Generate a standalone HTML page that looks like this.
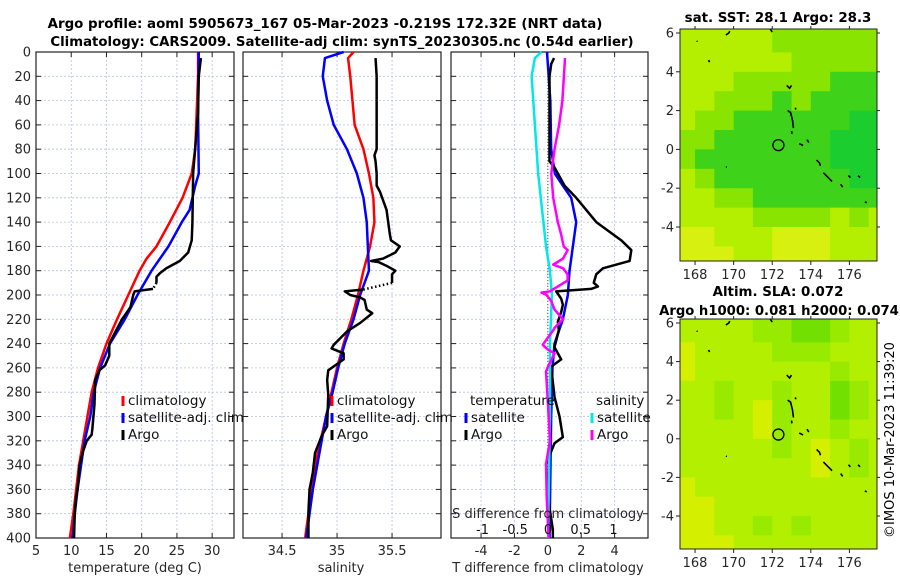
<!DOCTYPE html>
<html><head><meta charset="utf-8">
<style>
html,body{margin:0;padding:0;background:#fff;}
svg{display:block;font-family:"DejaVu Sans","Liberation Sans",sans-serif;}
</style></head>
<body>
<svg id="fig" width="900" height="580" viewBox="0 0 900 580" xmlns="http://www.w3.org/2000/svg">
<rect width="900" height="580" fill="#fff"/>
<text x="325" y="28" text-anchor="middle" font-size="13.4" font-weight="bold">Argo profile: aoml 5905673_167 05-Mar-2023 -0.219S 172.32E (NRT data)</text>
<text x="342" y="46" text-anchor="middle" font-size="13.3" font-weight="bold">Climatology: CARS2009. Satellite-adj clim: synTS_20230305.nc (0.54d earlier)</text>
<g id="plots"></g>
<text transform="translate(894,440) rotate(-90)" text-anchor="middle" font-size="13">©IMOS 10-Mar-2023 11:39:20</text>
</svg>
<script>
// ---------- Profile data ----------
const climDepth = [0,20,50,80,100,120,140,160,170,180,200,220,240,260,280,300,320,340,360,380,400];
const climT = [28.0,28.0,27.8,27.6,27.1,25.8,24.0,22.1,20.7,19.7,18.1,16.5,15.0,13.8,12.9,12.3,11.7,11.1,10.7,10.3,9.8];
const satDepth = [0,50,100,110,120,130,140,160,180,200,220,240,260,280,300,320,340,360,380,400];
const satT = [28.1,28.0,28.1,27.6,27.2,26.8,25.7,23.8,21.4,19.4,17.6,15.5,14.1,13.2,12.7,11.9,11.4,10.9,10.5,10.2];
const argoDepthT = [5,20,50,100,140,155,165,172,178,182,185,190,null,195,197,200,210,220,240,250,258,262,270,290,310,315,320,330,340,360,366,380,400];
const argoT = [28.4,28.1,28.0,27.3,27.2,27.1,26.6,25.4,23.5,22.6,22.1,22.1,null,21.6,19.0,18.8,18.4,17.2,15.4,15.4,14.8,14.0,13.4,13.3,13.0,12.9,12.2,11.6,11.2,10.9,10.7,10.5,10.4];

const climSDepth = [0,5,20,60,80,100,120,140,160,180,200,220,240,260,280,300,320,340,360,380,400];
const climS = [35.15,35.10,35.12,35.16,35.24,35.29,35.33,35.34,35.30,35.24,35.19,35.13,35.06,35.00,34.95,34.90,34.85,34.80,34.77,34.74,34.71];
const satSDepth = [0,5,20,40,60,80,100,120,140,160,180,200,220,240,260,280,300,320,340,360,380,400];
const satS = [35.06,34.89,34.87,34.91,34.97,35.09,35.18,35.24,35.27,35.28,35.29,35.21,35.15,35.07,35.01,34.96,34.90,34.86,34.82,34.78,34.75,34.72];
const argoDepthS = [5,20,40,60,80,85,90,100,110,115,130,150,155,160,165,170,172,173,176,180,183,190,null,195.5,197,200,202,204,212,215,223,230,241,244,248,253,262,270,282,308,316,330,346,360,378,400];
const argoS = [35.35,35.36,35.36,35.36,35.36,35.34,35.35,35.36,35.36,35.39,35.45,35.48,35.49,35.57,35.53,35.42,35.31,35.38,35.45,35.53,35.50,35.50,null,35.24,35.07,35.12,35.21,35.25,35.27,35.32,35.21,35.09,34.97,34.95,35.06,35.06,34.92,34.91,34.92,34.91,34.86,34.80,34.78,34.75,34.74,34.74];

const dSatTDepth = [0,40,80,100,110,120,140,150,160,180,200,220,240,260,300,400];
const dSatT = [-0.05,0.15,0.2,0.42,0.9,1.4,1.7,1.6,1.5,1.3,1.2,0.9,0.4,0.28,0.2,0.1];
const dArgoTDepth = [5,10,20,90,95,110,120,140,155,163,172,178,183,190,193,195,197,203,208,214,222,229,243,253,259,284,300,317,322,339,366,393,400];
const dArgoT = [0.37,0.2,0.1,0.1,0.4,1.0,1.7,2.9,4.4,5.0,4.9,3.3,2.9,2.75,3.0,2.6,0.5,0.8,0.9,0.8,0.6,0.66,0.4,0.8,0.2,0.4,0.7,0.9,0.4,-0.1,0.0,0.3,0.3];
const dSatSDepth = [0,5,20,60,100,140,160,180,200,240,300,400];
const dSatS = [-0.1,-0.2,-0.25,-0.2,-0.15,-0.07,-0.03,0.03,0.06,0.03,0.03,0.0];
const dArgoSDepth = [5,40,60,80,100,120,140,150,160,163,170,175,178,183,188,197,198,200,205,212,220,227,229,241,245,248,259,263,290,320,339,366,400];
const dArgoS = [0.26,0.22,0.17,0.1,0.05,0.08,0.15,0.2,0.24,0.3,0.23,0.08,0.23,0.3,0.3,0.03,-0.1,-0.02,0.05,0.1,0.23,0.1,0.08,-0.08,0.0,0.1,0.0,-0.03,0.0,0.03,-0.03,-0.02,0.01];

const depthTicks = [0,20,40,60,80,100,120,140,160,180,200,220,240,260,280,300,320,340,360,380,400];
const tempTicks = [5,10,15,20,25,30];
const salTicks = [34.5,35,35.5];
const tdiffTicks = [-4,-2,0,2,4];
const sdiffTicks = [-1,-0.5,0,0.5,1];

// ---------- Map data (levels per 1-degree cell, rows lat 6->-6, cols lon 167->178) ----------
const mapLatTop = [7,6,5,4,3,2,1,0,-1,-2,-3,-4,-5];
const mapLonLeft = [167,168,169,170,171,172,173,174,175,176,177];
const sstLevels = [
[1,1,1,1,1,2,2,2,2,2,2],
[1,1,1,1,1,2,2,2,2,2,2],
[1,1,1,1,1,1,2,2,2,2,2],
[1,1,1,2,2,2,2,2,3,3,3],
[1,1,2,2,2,3,2,3,3,3,3],
[1,2,2,3,3,3,3,3,3,4,4],
[2,2,3,3,3,3,3,3,4,4,4],
[2,3,3,3,3,3,3,3,4,4,4],
[1,2,3,3,3,3,3,3,3,4,4],
[1,1,2,2,3,3,3,3,3,3,3],
[1,1,1,1,2,2,2,2,1,2,1],
[0,0,1,1,1,0,0,0,1,1,1],
[0,0,0,1,1,0,0,0,1,1,1]];
const sstColors = ["#d8f010","#b4ee00","#88e400","#3ed21a","#1ccd30"];
const slaLevels = [
[1,1,1,1,2,2,3,3,2,1,1],
[1,1,1,1,2,2,3,3,2,1,1],
[0,1,1,1,1,2,2,2,1,1,1],
[0,1,1,1,1,1,1,1,2,1,1],
[1,1,2,1,1,2,1,1,3,2,1],
[1,1,2,1,0,2,1,1,3,2,1],
[1,1,1,1,0,2,1,1,2,1,1],
[1,1,1,1,1,2,1,0,1,2,1],
[1,1,1,1,1,1,1,0,1,2,1],
[0,1,1,1,1,1,1,1,1,1,1],
[0,0,1,1,1,1,1,1,1,1,1],
[0,0,1,1,2,1,2,1,1,1,1],
[0,0,0,1,1,1,1,1,1,1,1]];
const slaColors = ["#d4f000","#b2ef00","#98ea00","#72e000"];
const islands = [
[[168.1,5.6],[168.12,5.55]],
[[169.6,5.9],[169.75,6.0],[169.8,6.1]],
[[171.9,6.2],[172.0,6.05]],
[[168.7,4.6],[168.75,4.5]],
[[172.75,3.3],[172.9,3.15],[173.0,3.3]],
[[172.8,2.0],[172.95,1.9],[173.05,1.5],[173.1,1.1]],
[[173.2,2.15],[173.22,2.05]],
[[173.0,0.95],[173.02,0.8]],
[[173.4,0.3],[173.6,0.2]],
[[173.8,0.5],[173.9,0.35]],
[[174.3,-0.55],[174.45,-0.7],[174.5,-0.85]],
[[174.65,-1.2],[174.9,-1.45],[175.1,-1.65]],
[[175.55,-1.8],[175.65,-1.95]],
[[175.95,-1.35],[176.05,-1.45]],
[[176.45,-1.35],[176.55,-1.45]],
[[176.8,-2.7],[176.9,-2.75]],
[[169.6,-0.9],[169.65,-0.92]]];
const argoLon = 172.32, argoLat = 0.22;

// ---------- helpers ----------
const NS = "http://www.w3.org/2000/svg";
const root = document.getElementById("plots");
function mk(tag, attrs, parent){ const e=document.createElementNS(NS,tag); for(const k in attrs) e.setAttribute(k,attrs[k]); (parent||root).appendChild(e); return e; }
const Y0=52, Y1=538;
function yD(d){ return Y0 + d/400*(Y1-Y0); }
function lin(d0,d1,r0,r1){ return v=> r0+(v-d0)/(d1-d0)*(r1-r0); }

function panel(name, x0, x1, xs, ticks, labels, showY){
  const g = mk("g",{});
  
  
  depthTicks.forEach(d=>{
    mk("line",{x1:x0,x2:x1,y1:yD(d),y2:yD(d),stroke:"#b8c0e0","stroke-width":0.8,"stroke-dasharray":"2,2"},g);
    mk("line",{x1:x0,x2:x0+5,y1:yD(d),y2:yD(d),stroke:"#222","stroke-width":1},g);
    mk("line",{x1:x1-5,x2:x1,y1:yD(d),y2:yD(d),stroke:"#222","stroke-width":1},g);
    if(showY){
      const t=mk("text",{x:x0-5,y:yD(d)+4.5,"text-anchor":"end","font-size":13,fill:"#262626"},g);
      
      
      t.textContent=d;
    }
  });
  ticks.forEach((v,i)=>{
    const x=xs(v);
    mk("line",{x1:x,x2:x,y1:Y0,y2:Y1,stroke:"#b8c0e0","stroke-width":0.8,"stroke-dasharray":"2,2"},g);
    mk("line",{x1:x,x2:x,y1:Y1,y2:Y1-5,stroke:"#222","stroke-width":1},g);
    mk("line",{x1:x,x2:x,y1:Y0,y2:Y0+5,stroke:"#222","stroke-width":1},g);
    const t=mk("text",{x:x,y:555,"text-anchor":"middle","font-size":13,fill:"#262626"},g);
    
    
    t.textContent=labels[i];
  });
  mk("rect",{x:x0,y:Y0,width:x1-x0,height:Y1-Y0,fill:"none",stroke:"#222","stroke-width":1.2},g);
  return g;
}
function series(name, xs, dep, val, color, w){
  const g=mk("g",{});
  
  
  let seg=[], segs=[];
  for(let i=0;i<dep.length;i++){
    if(dep[i]===null){ segs.push(seg); seg=[]; continue; }
    seg.push([xs(val[i]), yD(dep[i])]);
  }
  segs.push(seg);
  segs.forEach((s,k)=>{
    const p=mk("polyline",{points:s.map(q=>q.join(",")).join(" "),fill:"none",stroke:color,"stroke-width":w,"stroke-linejoin":"round"},g);
    
    
    if(k<segs.length-1){
      const a=s[s.length-1], b=segs[k+1][0];
      mk("line",{x1:a[0],y1:a[1],x2:b[0],y2:b[1],stroke:color,"stroke-width":w,"stroke-dasharray":"1.5,2.5"},g);
    }
  });
}
function legendEntry(x,y,color,label){
  const g=mk("g",{});
  
  
  mk("line",{x1:x,x2:x,y1:y-9,y2:y+1,stroke:color,"stroke-width":3},g);
  const t=mk("text",{x:x+5,y:y,"font-size":13.5,fill:"#111"},g);
  t.textContent=label;
}
function axisTitle(x,y,txt,name){
  const t=mk("text",{x:x,y:y,"text-anchor":"middle","font-size":13,fill:"#262626"});
  
  
  t.textContent=txt;
}

// ---------- Panel 1: temperature ----------
const xT = lin(5,33.1,36,234);
panel("temperature-panel",36,234,xT,tempTicks,tempTicks.map(String),true);
series("temp-climatology",xT,climDepth,climT,"#ff0000",2.5);
series("temp-satellite-adj",xT,satDepth,satT,"#0000ff",2.5);
series("temp-argo",xT,argoDepthT,argoT,"#000000",2.5);
legendEntry(123,405,"#ff0000","climatology");
legendEntry(123,422,"#0000ff","satellite-adj. clim");
legendEntry(123,439,"#000000","Argo");
axisTitle(135,572,"temperature (deg C)","x-axis-title-temperature");

// ---------- Panel 2: salinity ----------
const xS = lin(34.145,35.945,243,441);
panel("salinity-panel",243,441,xS,salTicks,["34.5","35","35.5"],false);
series("sal-climatology",xS,climSDepth,climS,"#ff0000",2.5);
series("sal-satellite-adj",xS,satSDepth,satS,"#0000ff",2.5);
series("sal-argo",xS,argoDepthS,argoS,"#000000",2.5);
legendEntry(332,405,"#ff0000","climatology");
legendEntry(332,422,"#0000ff","satellite-adj. clim");
legendEntry(332,439,"#000000","Argo");
axisTitle(341,572,"salinity","x-axis-title-salinity");

// ---------- Panel 3: differences ----------
const xdT = lin(-5.8,6.0,451,648);
const xdS = lin(-1.481,1.527,451,648);
panel("difference-panel",451,648,xdT,tdiffTicks,tdiffTicks.map(String),false);
mk("line",{x1:xdT(0),x2:xdT(0),y1:Y0,y2:Y1,stroke:"#555","stroke-width":1,"stroke-dasharray":"1,2"});
series("dT-satellite",xdT,dSatTDepth,dSatT,"#0000ff",2.5);
series("dT-argo",xdT,dArgoTDepth,dArgoT,"#000000",2.5);
series("dS-satellite",xdS,dSatSDepth,dSatS,"#00e8e8",2.5);
series("dS-argo",xdS,dArgoSDepth,dArgoS,"#ff00ff",2.5);
(function(){
  const t=mk("text",{x:470,y:405,"font-size":13.5,fill:"#111"}); t.textContent="temperature";
   
  const s=mk("text",{x:596,y:405,"font-size":13.5,fill:"#111"}); s.textContent="salinity";
   
})();
legendEntry(466,422,"#0000ff","satellite");
legendEntry(466,439,"#000000","Argo");
legendEntry(592,422,"#00e8e8","satellite");
legendEntry(592,439,"#ff00ff","Argo");
axisTitle(548,518,"S difference from climatology","s-diff-axis-title");
sdiffTicks.forEach(v=>{
  const t=mk("text",{x:xdS(v),y:534,"text-anchor":"middle","font-size":13,fill:"#111"});
  
  
  t.textContent=String(v);
});
axisTitle(548,572,"T difference from climatology","x-axis-title-t-difference");

// ---------- Maps ----------
function drawMap(name, top, bottom, latTopY, pxPerLat, levels, colors){
  const X0=680, X1=877;
  const xl = lin(167.22,177.43,X0,X1);
  const yl = lat => latTopY + (6-lat)*pxPerLat;
  const g=mk("g",{});
  
  
  const cid=name+"-clip";
  const cp=mk("clipPath",{id:cid},g);
  mk("rect",{x:X0,y:top,width:X1-X0,height:bottom-top},cp);
  const cells=mk("g",{"clip-path":"url(#"+cid+")"},g);
  mapLatTop.forEach((lt,r)=>{
    mapLonLeft.forEach((ln,c)=>{
      const x=xl(ln), y=yl(lt);
      const cell=mk("rect",{x:x,y:y,width:xl(ln+1)-x+0.5,height:yl(lt-1)-y+0.5,fill:colors[levels[r][c]]},cells);
      
      
    });
  });
  islands.forEach(isl=>{
    const p=mk("polyline",{points:isl.map(q=>xl(q[0])+","+yl(q[1])).join(" "),fill:"none",stroke:"#000","stroke-width":1.6},cells);
    
    
  });
  const c=mk("circle",{cx:xl(argoLon),cy:yl(argoLat),r:5.5,fill:"none",stroke:"#000","stroke-width":1.3},g);
  
  
  mk("rect",{x:X0,y:top,width:X1-X0,height:bottom-top,fill:"none",stroke:"#222","stroke-width":1},g);
  [168,170,172,174,176].forEach(v=>{
    const x=xl(v);
    mk("line",{x1:x,x2:x,y1:bottom,y2:bottom+4,stroke:"#222"},g);
    mk("line",{x1:x,x2:x,y1:top,y2:top-3,stroke:"#222"},g);
    const t=mk("text",{x:x,y:bottom+18,"text-anchor":"middle","font-size":13,fill:"#262626"},g);
     
    t.textContent=v;
  });
  [6,4,2,0,-2,-4].forEach(v=>{
    const y=yl(v);
    mk("line",{x1:X0,x2:X0-4,y1:y,y2:y,stroke:"#222"},g);
    mk("line",{x1:X1,x2:X1+3,y1:y,y2:y,stroke:"#222"},g);
    const t=mk("text",{x:X0-6,y:y+4.5,"text-anchor":"end","font-size":13,fill:"#262626"},g);
     
    t.textContent=v;
  });
  return g;
}
drawMap("sst-map",29,261,33,19.4,sstLevels,sstColors);
drawMap("sla-map",319,549,323,19.3,slaLevels,slaColors);
(function(){
  const a=mk("text",{x:778,y:22,"text-anchor":"middle","font-size":13.4,"font-weight":"bold"}); a.textContent="sat. SST: 28.1 Argo: 28.3";
   
  const b=mk("text",{x:778,y:296,"text-anchor":"middle","font-size":13.4,"font-weight":"bold"}); b.textContent="Altim. SLA: 0.072";
   
  const c=mk("text",{x:779,y:315,"text-anchor":"middle","font-size":13.2,"font-weight":"bold"}); c.textContent="Argo h1000: 0.081 h2000: 0.074";
   
})();
</script>
</body></html>
